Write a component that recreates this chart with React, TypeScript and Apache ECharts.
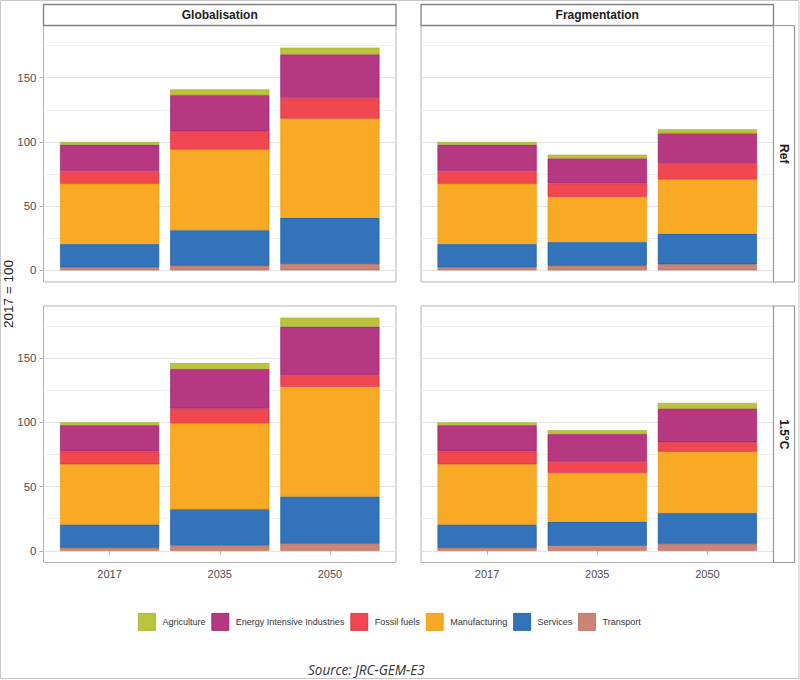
import React, { useEffect, useRef } from 'react';
import * as echarts from 'echarts';

// ---------- data ----------
const YEARS = ['2017', '2035', '2050'];
const SECTORS = ['Agriculture', 'Energy Intensive Industries', 'Fossil fuels', 'Manufacturing', 'Services', 'Transport'];
const SCENARIOS = ['Globalisation', 'Fragmentation'];
const CLIMATE = ['Ref', '1.5°C'];
const Y_MAJOR = [0, 50, 100, 150];
const Y_MINOR = [25, 75, 125, 175];
const SOURCE = 'Source: JRC-GEM-E3';
const Y_TITLE = '2017 = 100';

// Globalisation – Ref
const GR_AGRI = [2.1, 4.5, 5.2];
const GR_EII = [20.6, 28.1, 34.1];
const GR_FOSSIL = [9.9, 14.3, 15.9];
const GR_MANUF = [46.9, 62.8, 77.3];
const GR_SERV = [18.1, 27.6, 36.0];
const GR_TRANS = [2.4, 3.6, 4.9];

// Fragmentation – Ref
const FR_AGRI = [2.1, 2.9, 3.1];
const FR_EII = [20.6, 19.5, 23.1];
const FR_FOSSIL = [9.9, 10.4, 12.8];
const FR_MANUF = [46.9, 35.2, 42.2];
const FR_SERV = [18.1, 18.5, 23.9];
const FR_TRANS = [2.4, 3.6, 4.7];

// Globalisation – 1.5°C
const G15_AGRI = [2.1, 4.6, 7.0];
const G15_EII = [20.6, 30.9, 37.6];
const G15_FOSSIL = [9.9, 11.7, 9.3];
const G15_MANUF = [46.9, 66.7, 85.4];
const G15_SERV = [18.1, 28.3, 36.9];
const G15_TRANS = [2.4, 4.1, 5.4];

// Fragmentation – 1.5°C
const F15_AGRI = [2.1, 2.9, 4.4];
const F15_EII = [20.6, 21.8, 26.2];
const F15_FOSSIL = [9.9, 8.8, 7.5];
const F15_MANUF = [46.9, 37.9, 47.5];
const F15_SERV = [18.1, 18.7, 24.4];
const F15_TRANS = [2.4, 3.9, 5.2];

// panel order: row-major (Ref row, then 1.5°C row); sector order as SECTORS
const PANELS = [
  [GR_AGRI, GR_EII, GR_FOSSIL, GR_MANUF, GR_SERV, GR_TRANS],
  [FR_AGRI, FR_EII, FR_FOSSIL, FR_MANUF, FR_SERV, FR_TRANS],
  [G15_AGRI, G15_EII, G15_FOSSIL, G15_MANUF, G15_SERV, G15_TRANS],
  [F15_AGRI, F15_EII, F15_FOSSIL, F15_MANUF, F15_SERV, F15_TRANS],
];

// ---------- styles ----------
const FILL = ['#B8C334', '#B2307B', '#EF3F4A', '#F8A71C', '#2A6DB6', '#C98070'];
const EDGE = ['#9DA822', '#92145F', '#DA2330', '#F09400', '#0F53A0', '#B6644F'];
const FONT = '"Liberation Sans", Arial, sans-serif';

const PANEL_X = [43.5, 421];
const PANEL_Y = [25.5, 306];
const PANEL_W = 352.5;
const PANEL_H = 256.5;
const BAND = PANEL_W / 3.2;
const INSET = BAND * 0.1;

export default function App() {
  const ref = useRef<HTMLDivElement>(null);

  useEffect(() => {
    if (!ref.current) return;
    const chart = echarts.init(ref.current, null, { renderer: 'svg' });

    const dataMax = Math.max(
      ...PANELS.map((p) => Math.max(...YEARS.map((_, k) => p.reduce((s, arr) => s + arr[k], 0))))
    );
    const yMin = -dataMax * 0.05;
    const yMax = dataMax * 1.05;

    const grids: any[] = [];
    const xAxes: any[] = [];
    const yAxes: any[] = [];
    const series: any[] = [];
    const graphics: any[] = [];

    for (let p = 0; p < 4; p++) {
      const row = p >> 1;
      const col = p & 1;
      const left = PANEL_X[col];
      const top = PANEL_Y[row];

      // outer grid: panel with border & gridlines
      const outerIdx = grids.length;
      grids.push({
        left, top, width: PANEL_W, height: PANEL_H,
        show: true, borderColor: '#B3B3B3', borderWidth: 1, backgroundColor: 'transparent',
        containLabel: false,
      });
      xAxes.push({ type: 'value', gridIndex: outerIdx, min: 0, max: 1, show: false });
      yAxes.push({
        type: 'value', gridIndex: outerIdx, min: yMin, max: yMax, position: 'left',
        axisLine: { show: false },
        axisTick: { show: false, customValues: Y_MINOR },
        axisLabel: { show: false, customValues: Y_MINOR },
        splitLine: { show: true, lineStyle: { color: '#F1F1F1', width: 1 } },
      });
      yAxes.push({
        type: 'value', gridIndex: outerIdx, min: yMin, max: yMax, position: 'left',
        axisLine: { show: false },
        axisTick: { show: col === 0, customValues: Y_MAJOR, length: 4, lineStyle: { color: '#B3B3B3' } },
        axisLabel: {
          show: col === 0, customValues: Y_MAJOR, color: '#4D4D4D', fontSize: 11.5,
          fontFamily: FONT, margin: 7,
        },
        splitLine: { show: true, lineStyle: { color: '#E3E3E3', width: 1 } },
      });

      // inner grid: bars on category axis
      const innerIdx = grids.length;
      grids.push({ left: left + INSET, top, width: PANEL_W - 2 * INSET, height: PANEL_H, show: false });
      const innerX = xAxes.length;
      xAxes.push({
        type: 'category', gridIndex: innerIdx, data: YEARS, boundaryGap: true,
        axisLine: { show: false },
        axisTick: { show: row === 1, alignWithLabel: true, length: 4, lineStyle: { color: '#B3B3B3' } },
        axisLabel: { show: row === 1, color: '#4D4D4D', fontSize: 11, fontFamily: FONT, margin: 6 },
        splitLine: { show: false },
      });
      const innerY = yAxes.length;
      yAxes.push({ type: 'value', gridIndex: innerIdx, min: yMin, max: yMax, show: false, splitLine: { show: false } });

      for (let s = SECTORS.length - 1; s >= 0; s--) {
        series.push({
          type: 'bar',
          name: SECTORS[s],
          xAxisIndex: innerX,
          yAxisIndex: innerY,
          stack: 'panel' + p,
          barWidth: '90%',
          data: PANELS[p][s],
          itemStyle: { color: FILL[s], borderColor: EDGE[s], borderWidth: 0.6, opacity: 0.96 },
          emphasis: { disabled: true },
        });
      }
    }

    // strips
    for (let c = 0; c < 2; c++) {
      graphics.push({
        type: 'rect',
        shape: { x: PANEL_X[c], y: 4.5, width: PANEL_W, height: 21 },
        style: { fill: '#FFFFFF', stroke: '#808080', lineWidth: 1.3 },
        z: 10,
      });
      graphics.push({
        type: 'text',
        x: PANEL_X[c] + PANEL_W / 2,
        y: 15,
        style: {
          text: SCENARIOS[c], align: 'center', verticalAlign: 'middle',
          fontSize: 12, fontWeight: 'bold', fontFamily: FONT, fill: '#1A1A1A',
        },
        z: 11,
      });
    }
    for (let r = 0; r < 2; r++) {
      const sx = PANEL_X[1] + PANEL_W;
      graphics.push({
        type: 'rect',
        shape: { x: sx, y: PANEL_Y[r], width: 21, height: PANEL_H },
        style: { fill: '#FFFFFF', stroke: '#999999', lineWidth: 1.2 },
        z: 10,
      });
      graphics.push({
        type: 'text',
        x: sx + 10.5,
        y: PANEL_Y[r] + PANEL_H / 2,
        rotation: -Math.PI / 2,
        style: {
          text: CLIMATE[r], align: 'center', verticalAlign: 'middle',
          fontSize: 12, fontWeight: 'bold', fontFamily: FONT, fill: '#1A1A1A',
        },
        z: 11,
      });
    }
    // y title
    graphics.push({
      type: 'text',
      x: 8,
      y: 294,
      rotation: Math.PI / 2,
      style: {
        text: Y_TITLE, align: 'center', verticalAlign: 'middle',
        fontSize: 13.5, fontFamily: FONT, fill: '#222222',
      },
    });
    // source
    graphics.push({
      type: 'text',
      x: 308,
      y: 669,
      scaleX: 0.9,
      style: {
        text: SOURCE, align: 'left', verticalAlign: 'middle',
        fontSize: 15, fontStyle: 'italic', fontFamily: '"Open Sans", sans-serif', fill: '#333333',
      },
    });
    // outer frame
    graphics.push({
      type: 'rect',
      shape: { x: 0.5, y: 0.5, width: 798.5, height: 678 },
      style: { fill: 'none', stroke: '#C8C8C8', lineWidth: 1 },
      z: 20,
    });

    chart.setOption({
      animation: false,
      backgroundColor: '#FFFFFF',
      textStyle: { fontFamily: FONT },
      grid: grids,
      xAxis: xAxes,
      yAxis: yAxes,
      series,
      legend: {
        data: SECTORS,
        left: 138,
        top: 613,
        padding: 0,
        orient: 'horizontal',
        icon: 'rect',
        itemWidth: 17,
        itemHeight: 17,
        itemGap: 6,
        selectedMode: false,
        itemStyle: { borderWidth: 0.8 },
        textStyle: { fontSize: 9, color: '#333333', fontFamily: FONT, padding: [0, 0, 0, 2] },
      },
      graphic: graphics,
    });

    return () => chart.dispose();
  }, []);

  return (
    <div
      ref={ref}
      style={{ position: 'absolute', left: 0, top: 0, width: 800, height: 680 }}
    />
  );
}
